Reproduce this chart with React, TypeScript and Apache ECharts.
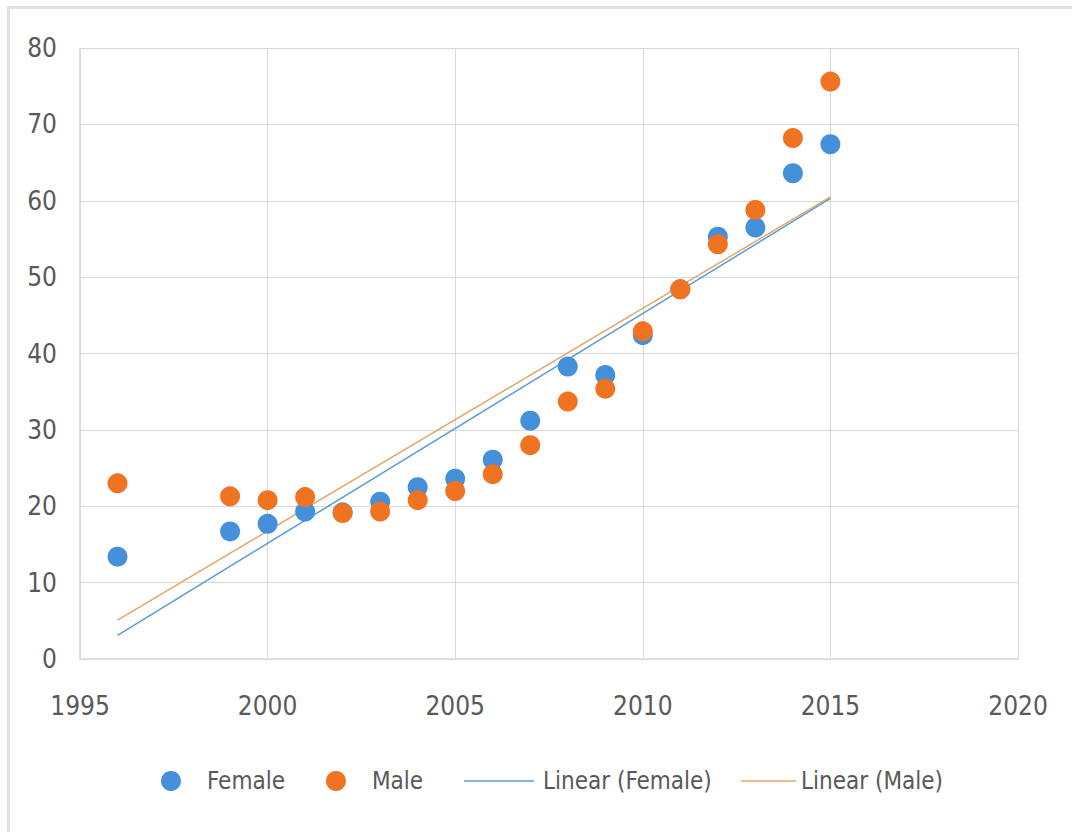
import React, { useEffect, useRef } from "react";
import * as echarts from "echarts";

const years = [1996, 1999, 2000, 2001, 2002, 2003, 2004, 2005, 2006, 2007, 2008, 2009, 2010, 2011, 2012, 2013, 2014, 2015];
const femaleValues = [13.4, 16.7, 17.7, 19.3, 19.2, 20.6, 22.5, 23.6, 26.1, 31.2, 38.3, 37.2, 42.4, 48.4, 55.3, 56.5, 63.6, 67.4];
const maleValues = [23.0, 21.3, 20.8, 21.2, 19.1, 19.3, 20.8, 22.0, 24.2, 28.0, 33.7, 35.4, 42.9, 48.4, 54.3, 58.8, 68.2, 75.6];
// Trendline endpoints
const trendYears = [1996, 2015];
const femaleTrend = [3.1, 60.3];
const maleTrend = [5.1, 60.5];
const xTicks = [1995, 2000, 2005, 2010, 2015, 2020];
const yTicks = [0, 10, 20, 30, 40, 50, 60, 70, 80];

const FONT = "'DejaVu Sans Condensed', 'Lato', sans-serif";
const FS = 26;
const LFS = 24;
const BLUE = "#4490DA";
const ORANGE = "#F07322";
const BLUE_LINE = "#5B9BD5";
const ORANGE_LINE = "#E3A66A";
const TEXT = "#595959";

export default function App() {
  const ref = useRef<HTMLDivElement>(null);
  useEffect(() => {
    if (!ref.current) return;
    const chart = echarts.init(ref.current, undefined, { renderer: "svg" });
    const pair = (xs: number[], ys: number[]) => xs.map((x, i) => [x, ys[i]]);
    const legendText = (pad: number) => ({
      color: TEXT,
      fontFamily: FONT,
      fontSize: LFS,
      padding: [0, 0, 0, pad],
    });
    chart.setOption({
      animation: false,
      backgroundColor: "#ffffff",
      textStyle: { fontFamily: FONT },
      graphic: [
        {
          type: "rect",
          shape: { x: 8.5, y: 7.5, width: 1200, height: 1000 },
          style: { fill: "none", stroke: "#e2e2e6", lineWidth: 3 },
          silent: true,
          z: -10,
        },
      ],
      grid: { left: 80, right: 54, top: 48, bottom: 173, containLabel: false },
      xAxis: {
        type: "value",
        min: xTicks[0],
        max: xTicks[xTicks.length - 1],
        interval: 5,
        axisLine: { show: true, lineStyle: { color: "#d9d9d9", width: 1.5 } },
        axisTick: { show: false },
        splitLine: { show: true, lineStyle: { color: "#d9d9d9", width: 1 } },
        axisLabel: {
          color: TEXT,
          fontFamily: FONT,
          fontSize: FS,
          margin: 34,
          formatter: (v: number) => String(v),
        },
      },
      yAxis: {
        type: "value",
        min: yTicks[0],
        max: yTicks[yTicks.length - 1],
        interval: 10,
        axisLine: { show: true, lineStyle: { color: "#d9d9d9", width: 1.5 } },
        axisTick: { show: false },
        splitLine: { show: true, lineStyle: { color: "#d9d9d9", width: 1 } },
        axisLabel: { color: TEXT, fontFamily: FONT, fontSize: FS, margin: 23 },
      },
      legend: [
        {
          data: [
            { name: "Female", icon: "circle" },
            { name: "Male", icon: "circle" },
          ],
          left: 161,
          top: 769,
          padding: 0,
          orient: "horizontal",
          itemWidth: 20,
          itemHeight: 20,
          itemGap: 41,
          textStyle: legendText(21),
        },
        {
          data: [{ name: "Linear (Female)", icon: "rect" }],
          left: 464,
          top: 769,
          padding: 0,
          itemWidth: 70,
          itemHeight: 1.5,
          textStyle: legendText(4),
        },
        {
          data: [{ name: "Linear (Male)", icon: "rect" }],
          left: 741,
          top: 769,
          padding: 0,
          itemWidth: 55,
          itemHeight: 1.5,
          textStyle: legendText(0),
        },
      ],
      series: [
        {
          name: "Linear (Female)",
          type: "line",
          data: pair(trendYears, femaleTrend),
          symbol: "none",
          lineStyle: { color: BLUE_LINE, width: 1.5 },
          itemStyle: { color: BLUE_LINE },
          z: 1,
        },
        {
          name: "Linear (Male)",
          type: "line",
          data: pair(trendYears, maleTrend),
          symbol: "none",
          lineStyle: { color: ORANGE_LINE, width: 1.5 },
          itemStyle: { color: ORANGE_LINE },
          z: 1,
        },
        {
          name: "Female",
          type: "scatter",
          data: pair(years, femaleValues),
          symbol: "circle",
          symbolSize: 20,
          itemStyle: { color: BLUE, opacity: 1 },
          z: 2,
        },
        {
          name: "Male",
          type: "scatter",
          data: pair(years, maleValues),
          symbol: "circle",
          symbolSize: 20,
          itemStyle: { color: ORANGE, opacity: 1 },
          z: 3,
        },
      ],
    });
    return () => chart.dispose();
  }, []);
  return (
    <div
      ref={ref}
      style={{ position: "fixed", left: 0, top: 0, width: 1072, height: 832, background: "#fff" }}
    />
  );
}
